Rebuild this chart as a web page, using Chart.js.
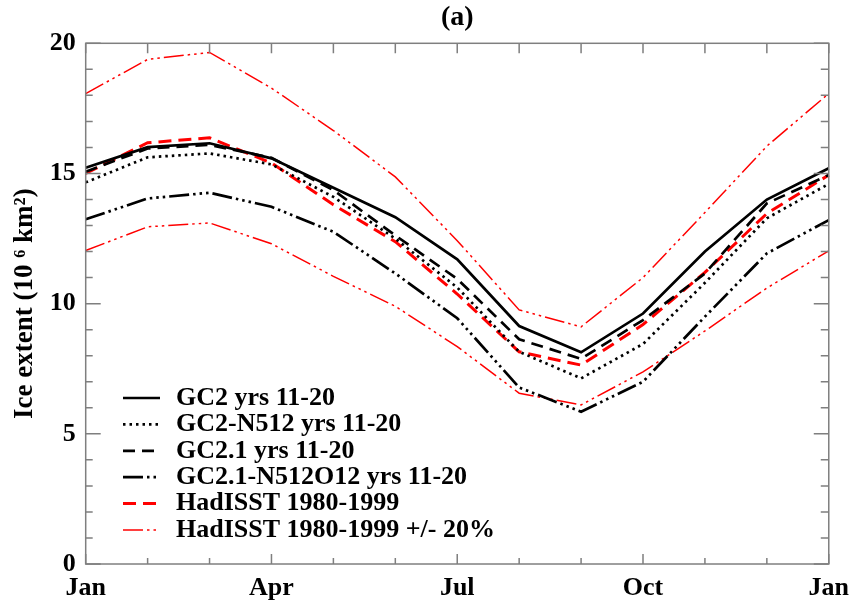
<!DOCTYPE html>
<html><head><meta charset="utf-8">
<script src="https://cdn.jsdelivr.net/npm/chart.js@4/dist/chart.umd.min.js"></script>
<style>html,body{margin:0;padding:0;background:#fff}canvas{display:block}</style>
</head><body>
<canvas id="c" width="858" height="610"></canvas>
<script>
// ---- data ----
const months = ['Jan','Feb','Mar','Apr','May','Jun','Jul','Aug','Sep','Oct','Nov','Dec','Jan'];
const majorTickLabels = ['Jan','','','Apr','','','Jul','','','Oct','','','Jan'];
const yTicks = [0, 5, 10, 15, 20];
const seriesNames = ['GC2 yrs 11-20','GC2-N512 yrs 11-20','GC2.1 yrs 11-20','GC2.1-N512O12 yrs 11-20','HadISST 1980-1999','HadISST 1980-1999 +/- 20%'];
const gc2        = [15.22,16.01,16.16,15.58,14.45,13.32,11.70, 9.14,8.13,9.62,12.00,14.00,15.20];
const gc2N512    = [14.66,15.62,15.77,15.35,14.10,12.50,10.62, 8.15,7.13,8.45,10.80,13.28,14.60];
const gc21       = [15.07,15.96,16.10,15.60,14.36,12.62,10.95, 8.63,7.88,9.37,11.16,13.85,14.94];
const gc21N512   = [13.24,14.04,14.26,13.72,12.76,11.16, 9.44, 6.78,5.85,7.00, 9.50,11.93,13.21];
const hadisst    = [15.00,16.18,16.37,15.40,13.80,12.38,10.37, 8.15,7.64,9.20,11.20,13.46,14.94];
const hadUpper   = [18.07,19.38,19.65,18.28,16.65,14.87,12.42, 9.76,9.11,11.00,13.50,16.05,18.07];
const hadLower   = [12.04,12.95,13.10,12.30,11.05, 9.90, 8.35, 6.56,6.11,7.38, 8.95,10.60,12.03];

const FONT = '"Liberation Serif", "Times New Roman", serif';
const AXIS_GREY = '#7f7f7f';
const dashDots = [20,4,2.5,4,2.5,4,2.5,4];

const ds = (label, data, color, width, dash) => ({
  label, data, borderColor: color, backgroundColor: color, borderWidth: width,
  borderDash: dash, pointRadius: 0, tension: 0, fill: false, borderCapStyle: 'butt'
});

const datasets = [
  ds(seriesNames[0], gc2, '#000000', 2.7, []),
  ds(seriesNames[1], gc2N512, '#000000', 2.7, [2.5,4]),
  ds(seriesNames[2], gc21, '#000000', 2.7, [12,7]),
  ds(seriesNames[3], gc21N512, '#000000', 2.7, dashDots),
  ds(seriesNames[4], hadisst, '#ff0000', 3, [13,7]),
  ds(seriesNames[5], hadUpper, '#ff0000', 1.5, dashDots),
  Object.assign(ds('', hadLower, '#ff0000', 1.5, dashDots), {hideInLegend: true})
];

const framePlugin = {
  id: 'frame',
  afterDraw(chart) {
    const {ctx, chartArea: a, scales} = chart;
    const xs = scales.x, ys = scales.y;
    ctx.save();
    ctx.strokeStyle = AXIS_GREY;
    ctx.lineWidth = 1.5;
    ctx.strokeRect(a.left, a.top, a.right - a.left, a.bottom - a.top);
    ctx.beginPath();
    for (let i = 0; i < months.length; i++) {
      const x = xs.getPixelForValue(i);
      const major = i % 3 === 0;
      const lb = major ? 10 : 6;
      ctx.moveTo(x, a.bottom); ctx.lineTo(x, a.bottom - lb);
      ctx.moveTo(x, a.top); ctx.lineTo(x, a.top + 10);
    }
    for (let v = 0; v <= 20; v++) {
      const y = ys.getPixelForValue(v);
      const major = v % 5 === 0;
      ctx.moveTo(a.left, y); ctx.lineTo(a.left + (major ? 15 : 7), y);
      ctx.moveTo(a.right, y); ctx.lineTo(a.right - (major ? 15 : 8), y);
    }
    ctx.stroke();

    // legend
    ctx.font = 'bold 26px ' + FONT;
    ctx.textBaseline = 'middle';
    ctx.textAlign = 'left';
    const x0 = 123, x1 = 160, tx = 176, y0 = 398, dy = 26.4;
    chart.data.datasets.forEach((d, i) => {
      if (d.hideInLegend) return;
      const y = y0 + i * dy;
      ctx.save();
      ctx.strokeStyle = d.borderColor;
      ctx.lineWidth = d.borderWidth;
      ctx.setLineDash(d.borderDash || []);
      ctx.beginPath(); ctx.moveTo(x0, y); ctx.lineTo(x1, y); ctx.stroke();
      ctx.restore();
      ctx.fillStyle = '#000';
      ctx.fillText(d.label, tx, y);
    });
    ctx.restore();
  }
};

new Chart(document.getElementById('c'), {
  type: 'line',
  data: { labels: months, datasets },
  options: {
    responsive: false,
    animation: false,
    layout: { padding: { left: 0, right: 23, top: 0, bottom: 0 } },
    plugins: {
      legend: { display: false },
      tooltip: { enabled: false },
      title: {
        display: true, text: '(a)', fullSize: false, color: '#000',
        font: { family: FONT, size: 28, weight: 'bold', lineHeight: 1.2 },
        padding: { top: 1, bottom: 8.7 }
      }
    },
    scales: {
      x: {
        type: 'category', offset: false,
        grid: { display: false, drawTicks: false },
        border: { display: false },
        ticks: {
          autoSkip: false, maxRotation: 0, padding: 9, color: '#000',
          font: { family: FONT, size: 26, weight: 'bold' },
          callback: (v, i) => majorTickLabels[i]
        },
        afterFit: s => { s.height = 46; }
      },
      y: {
        min: 0, max: 20,
        grid: { display: false, drawTicks: false },
        border: { display: false },
        afterBuildTicks: s => { s.ticks = yTicks.map(v => ({ value: v })); },
        ticks: {
          padding: 10, color: '#000',
          font: { family: FONT, size: 26, weight: 'bold' }
        },
        title: {
          display: true, text: 'Ice extent (10 \u2076 km\u00b2)', color: '#000',
          font: { family: FONT, size: 27, weight: 'bold', lineHeight: 1.2 },
          padding: { top: 9, bottom: 0 }
        },
        afterFit: s => { s.width = 85.7; }
      }
    }
  },
  plugins: [framePlugin]
});
</script>
</body></html>
